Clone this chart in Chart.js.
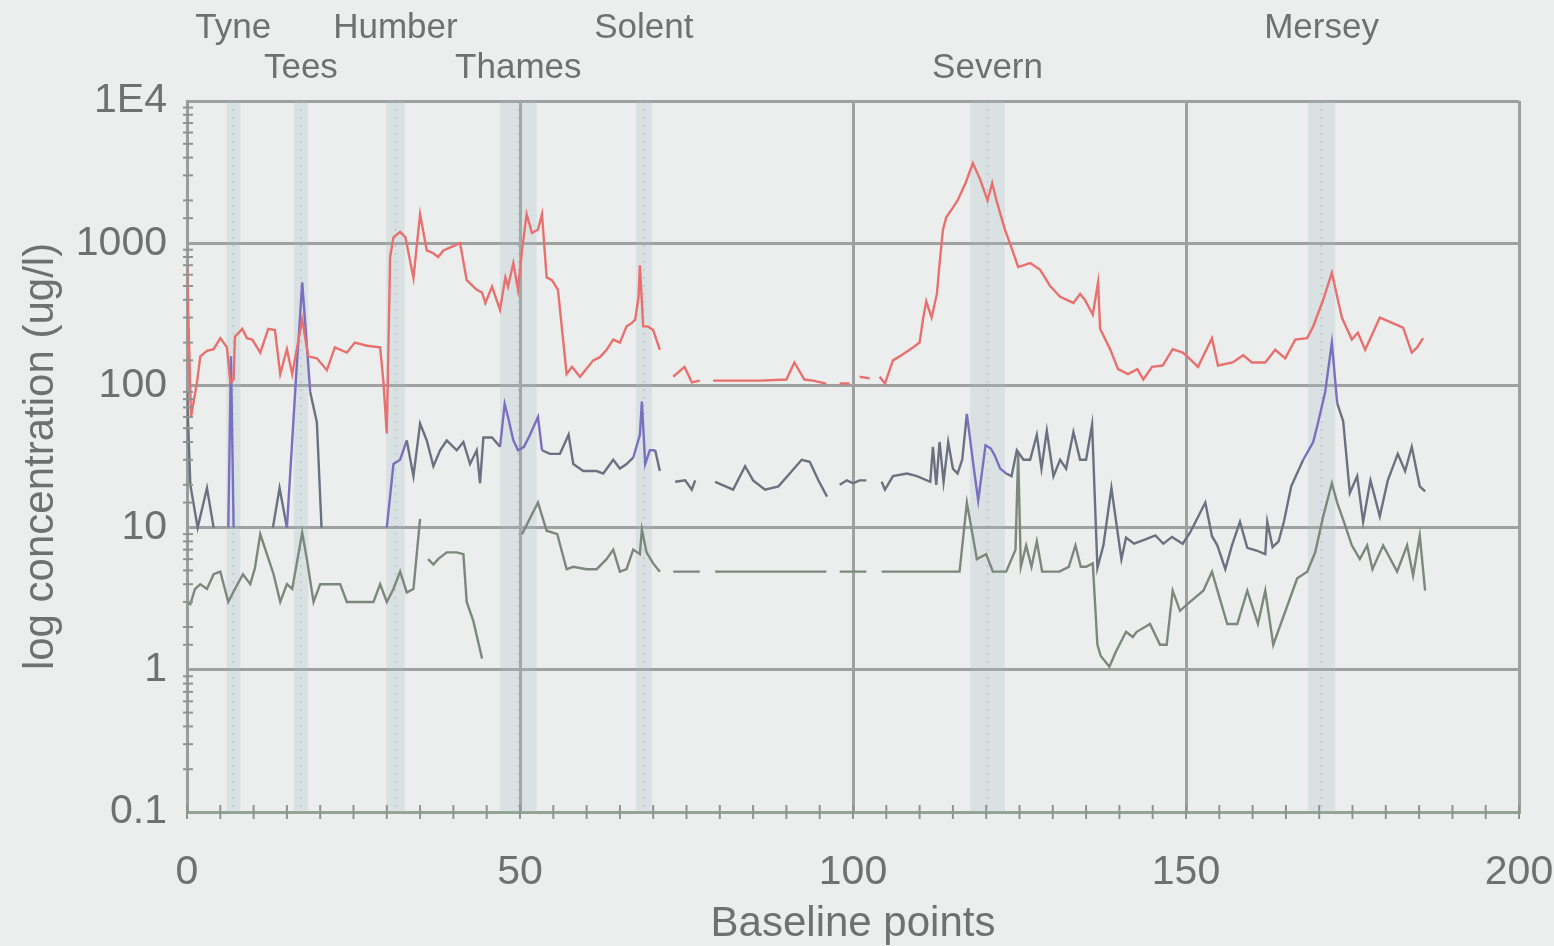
<!DOCTYPE html>
<html>
<head>
<meta charset="utf-8">
<title>Baseline points</title>
<script src="https://cdn.jsdelivr.net/npm/chart.js@4.4.1/dist/chart.umd.min.js"></script>
<style>
  html, body { margin: 0; padding: 0; background: #eceeed; }
  #chartContainer { width: 1554px; height: 946px; }
</style>
</head>
<body>
<div id="chartContainer"><canvas id="baselineChart" width="1554" height="946"></canvas></div>
<script>
// Valores (x = punto de linea base, y = concentracion ug/l)
const redX = [0, 0.6, 1.5, 2, 3, 4, 5, 6, 6.5, 7, 7.2, 8.3, 9, 9.8, 11, 12.2, 13.2, 14, 15, 15.8, 17.3, 18.2, 19.5, 21, 22.2, 24, 25.2, 27, 29, 29.5,
  30, 30.5, 31, 32, 32.8, 34, 35, 36, 37, 37.7, 38.5, 39.2, 41, 42, 43.5, 44.3, 44.8, 45.8, 47, 47.8, 48.2, 49, 49.7, 50.3, 51, 51.8, 52.7, 53.3, 54, 54.8,
  55.7, 57, 57.8, 59, 61, 62, 63, 64, 65, 66, 66.8, 67.3, 67.8, 68, 68.5, 69.2, 70, 71, 72, 73, 74.7, 75.8, 77, 78, 79, 82, 86, 90, 91.2, 92.7,
  94, 96, 97, 98, 99.5, 100.5, 101, 102.5, 103, 104, 104.8, 106, 107, 109, 110, 110.5, 111, 111.8, 112.6, 113, 113.5, 114, 115, 115.7, 116.9, 118, 119.1, 120.2, 120.9, 121.6,
  122.8, 123.9, 124.8, 126.6, 128.1, 129.6, 131.1, 133.1, 134.1, 134.8, 136, 136.8, 137.1, 138.6, 139.8, 141.3, 142.7, 143.6, 144.9, 146.5, 148, 149.5, 150.3, 151.8, 153.9, 154.8, 157, 158.6, 159.9, 161.9,
  163.4, 164.9, 166.4, 168.2, 169.1, 170.6, 171.9, 173.4, 174.9, 175.8, 176.9, 179.1, 180.6, 182.6, 183.9, 184.7, 185.6];
const redY = [700, 60, 105, 160, 175, 180, 215, 185, 105, 110, 220, 250, 215, 210, 170, 250, 245, 120, 180, 120, 290, 160, 155, 128, 185, 170, 200, 190, 185, 105,
  46, 800, 1100, 1200, 1100, 570, 1600, 890, 850, 800, 890, 920, 1000, 550, 470, 450, 380, 495, 340, 575, 495, 725, 470, 890, 1600, 1180, 1250, 1600, 575, 550,
  470, 120, 135, 115, 150, 158, 178, 210, 200, 260, 275, 290, 420, 700, 260, 260, 245, 178, null, 115, 135, 105, 108, null, 108, 108, 108, 110, 145, 110,
  108, 103, null, 103, 103, null, 115, 112, null, 115, 103, 150, 160, 185, 200, 290, 390, 300, 440, 720, 1240, 1520, 1780, 2000, 2650, 3650, 2800, 2000, 2650, 1950,
  1250, 900, 680, 725, 650, 500, 420, 380, 440, 400, 315, 530, 250, 180, 130, 120, 130, 110, 135, 138, 180, 170, 158, 135, 215, 138, 145, 163, 145, 145,
  178, 155, 210, 215, 260, 400, 620, 300, 210, 235, 178, 300, 280, 255, 170, 185, 215];

const midX = [0, 0.5, 1.6, 3, 4, 4.5, 6.2, 6.6, 7, 7.5, 12.9, 13.9, 15, 16.3, 17.3, 18.5, 19.5, 20.2, 21,
  30, 31, 32, 33, 34, 35, 36, 37, 38, 39, 40.5, 41.5, 42.5, 43.5, 44, 44.5, 45.8, 47, 47.7, 48.2, 49, 49.7, 50.6, 51.5, 52.7, 53.3, 54.5, 56, 57.3, 58, 59.5,
  61.5, 62.5, 64, 65, 66, 67, 68, 68.3, 68.8, 69.5, 70.3, 71, 72, 73.3, 74.8, 75.8, 76.3, 77, 79.3, 82, 83.8, 85, 86.8, 88.8, 90.5, 92.3, 93.5, 94.8, 96.1, 97,
  98, 99.1, 100, 101, 102, 103, 104.3, 104.8, 106, 108.1, 109.6, 111.6, 112, 112.5, 113, 113.6, 114.3, 115, 115.7, 116.4, 117.1, 118.1, 118.8, 119.9, 120.7, 121.3, 122.1, 123,
  123.8, 124.6, 125.6, 126.6, 127.6, 128.3, 129.1, 130.1, 131.1, 132, 133.1, 134.1, 135, 135.9, 136.7, 137.6, 138.8, 140.3, 141, 142.2, 144, 145.4, 146.6, 147.9, 149.5, 150.6,
  152.9, 153.9, 154.7, 155.9, 156.9, 158.1, 159.2, 160.6, 161.9, 162.2, 163, 163.9, 164.7, 165.8, 167.6, 169.1, 169.8, 170.9, 171.9, 172.7, 173.6, 174.6, 175.7, 176.6, 177.7,
  179.1, 180.3, 181.8, 182.9, 183.9, 185.1, 185.9];
const midY = [90, 20, 10, 19, 10, null, 10, 160, 10, null, 10, 19, 10, 100, 530, 90, 55, 10, null,
  10, 28, 30, 41, 23, 54, 41, 27, 35, 41, 35, 40, 28, 35, 20.5, 43, 43, 37, 74, 60, 41, 35, 37, 45, 60, 35, 33, 33, 45, 28, 25,
  25, 24, 30, 26, 28, 31, 45, 77, 28, 35, 35, 25, null, 21, 21.5, 18.5, 21.5, null, 21, 18.5, 27, 21.5, 18.5, 19.5, 24, 30, 29, 21.5, 16.5, null,
  20, 21.5, 20.5, 21.5, 21.5, null, 21, 18.5, 23, 24, 23, 21, 37, 20, 40, 21, 40, 26, 24, 30, 63, 27, 15.5, 38, 36, 32, 26, 24,
  23, 35, 30, 30, 45, 26, 48, 23, 30, 26, 47, 30, 30, 53, 5.2, 7.5, 19, 6, 8.5, 7.7, 8.3, 8.8, 7.7, 8.6, 7.7, 9.2,
  15, 8.7, 7.5, 5.1, 7.5, 11, 7.2, 6.9, 6.5, 11, 7.3, 8, 11, 19.5, 30, 40, 54, 90, 200, 75, 56, 17.5, 23, 11, 21.5,
  12, 21.5, 33, 25, 37, 19.5, 18];

const lowX = [0, 0.5, 1.2, 2, 3, 4, 5, 6.2, 7.2, 8.4, 9.5, 10.2, 11, 12, 13, 14, 15, 15.8, 17.3, 18, 19, 20, 23, 24, 28, 29, 30, 31, 32, 33, 34, 35, 35.5,
  36.2, 37, 37.7, 39, 40.5, 41.5, 42, 43, 44.3, 45, 50.3, 52.7, 54, 55.6, 57, 58, 60, 61.5, 63, 64, 65, 66, 67, 68, 68.3, 69, 70, 71, 72,
  73, 77, 77.5, 79.3, 96, 97, 98, 102, 103, 104.3, 116, 117.1, 118.6, 120, 121, 123, 124.4, 124.8, 125.2, 126, 126.8, 127.6, 128.4, 131, 132.4, 133.4, 134.2, 135, 136,
  136.7, 137.2, 138.5, 139.5, 141, 142, 142.6, 144.6, 146.1, 147.1, 148, 149.1, 150.6, 152.6, 153.9, 156.2, 157.7, 159.2, 160.8, 161.9, 163.1, 166.7, 168.2, 169.4, 170.6,
  171.9, 172.7, 173.7, 174.9, 176.1, 177.2, 178, 179.6, 181.7, 183.2, 184.1, 185.1, 185.9];
const lowY = [3, 2.9, 3.7, 4, 3.7, 4.7, 4.9, 3, 3.7, 4.7, 4, 5.2, 9, 6.5, 4.7, 3, 4, 3.7, 9.2, 6, 3, 4, 4, 3, 3, 4, 3, 3.7, 4.9, 3.5, 3.7, 11.5, null,
  6, 5.5, 6, 6.7, 6.7, 6.5, 3, 2.2, 1.2, null, 9, 15, 9.5, 9, 5.1, 5.3, 5.1, 5.1, 6, 7, 4.9, 5.1, 7, 6.5, 9.7, 6.7, 5.6, 4.9, null,
  4.9, 4.9, null, 4.9, 4.9, null, 4.9, 4.9, null, 4.9, 4.9, 15, 6, 6.5, 4.9, 4.9, 7, 33, 5.3, 7.5, 5.3, 8, 4.9, 4.9, 5.3, 7.5, 5.3, 5.3, 5.6,
  1.5, 1.25, 1.05, 1.35, 1.85, 1.7, 1.85, 2.1, 1.5, 1.5, 3.6, 2.6, 3, 3.6, 4.9, 2.1, 2.1, 3.6, 2.1, 3.6, 1.5, 4.4, 4.9, 6.7, 12,
  20.5, 15, 11, 7.5, 6, 7.5, 5.1, 7.5, 4.9, 7.5, 4.6, 8.8, 3.6];

// Estuarios: nombre, inicio y fin de la franja sombreada, fila de la etiqueta
const estuaryNames = ['Tyne', 'Tees', 'Humber', 'Thames', 'Solent', 'Severn', 'Mersey'];
const bandStart = [5.9, 16, 29.9, 47, 67.4, 117.6, 168.3];
const bandEnd = [8, 18.2, 32.7, 52.5, 69.8, 122.8, 172.4];
const labelRow = [0, 1, 0, 1, 0, 1, 0];

const yTickValues = [0.1, 1, 10, 100, 1000, 10000];
const yTickLabels = ['0.1', '1', '10', '100', '1000', '1E4'];
const xTickValues = [0, 50, 100, 150, 200];

const FONT = '"Liberation Sans", Arial, sans-serif';
const TEXT_COLOR = '#6f7170';
const GRID_COLOR = '#9ea19f';

function toPoints(xs, ys) {
    return xs.map((x, i) => ({ x: x, y: ys[i] }));
}

function isMajorLog(v) {
    const l = Math.log10(v);
    return Math.abs(l - Math.round(l)) < 1e-6;
}

function inBand(x) {
    for (let i = 0; i < bandStart.length; i++) {
        if (x >= bandStart[i] - 0.5 && x <= bandEnd[i] + 0.5) return true;
    }
    return false;
}

// Franjas de estuarios, marcas menores y etiquetas
const estuaryPlugin = {
    id: 'estuaryPlugin',
    beforeDatasetsDraw(chart) {
        const ctx = chart.ctx;
        const xs = chart.scales.x;
        const area = chart.chartArea;
        ctx.save();
        for (let i = 0; i < bandStart.length; i++) {
            const x0 = xs.getPixelForValue(bandStart[i]);
            const x1 = xs.getPixelForValue(bandEnd[i]);
            ctx.fillStyle = 'rgba(165, 188, 202, 0.26)';
            ctx.fillRect(x0, area.top, x1 - x0, area.bottom - area.top);
            ctx.strokeStyle = 'rgba(140, 160, 175, 0.4)';
            ctx.setLineDash([2, 6]);
            ctx.lineWidth = 1.5;
            ctx.beginPath();
            ctx.moveTo((x0 + x1) / 2, area.top);
            ctx.lineTo((x0 + x1) / 2, area.bottom);
            ctx.stroke();
        }
        ctx.restore();
    },
    afterDraw(chart) {
        const ctx = chart.ctx;
        const xs = chart.scales.x;
        const ys = chart.scales.y;
        const area = chart.chartArea;
        ctx.save();
        ctx.strokeStyle = '#8f948f';
        ctx.lineWidth = 2;
        // marcas menores eje y
        ys.ticks.forEach(t => {
            if (isMajorLog(t.value)) return;
            const py = ys.getPixelForValue(t.value);
            ctx.beginPath();
            ctx.moveTo(area.left - 4, py);
            ctx.lineTo(area.left + 6, py);
            ctx.stroke();
        });
        // marcas eje x cada 5
        xs.ticks.forEach(t => {
            const px = xs.getPixelForValue(t.value);
            ctx.beginPath();
            ctx.moveTo(px, area.bottom - 7);
            ctx.lineTo(px, area.bottom + 7);
            ctx.stroke();
        });
        // nombres de estuarios
        ctx.fillStyle = TEXT_COLOR;
        ctx.font = '35px ' + FONT;
        ctx.textAlign = 'center';
        ctx.textBaseline = 'middle';
        for (let i = 0; i < estuaryNames.length; i++) {
            const cx = xs.getPixelForValue((bandStart[i] + bandEnd[i]) / 2);
            const cy = labelRow[i] === 0 ? 28 : 68;
            ctx.fillText(estuaryNames[i], cx, cy);
        }
        ctx.restore();
    }
};

function crearGrafico() {
    const canvas = document.getElementById('baselineChart');
    const ctx = canvas.getContext('2d');

    const segmentColor = base => ({
        borderColor: c => inBand((c.p0.parsed.x + c.p1.parsed.x) / 2) ? '#7a6fc0' : base
    });

    window.baselineChart = new Chart(ctx, {
        type: 'line',
        data: {
            datasets: [
                {
                    label: 'red',
                    data: toPoints(redX, redY),
                    borderColor: '#e8706e',
                    borderWidth: 2.4,
                    pointRadius: 0,
                    spanGaps: false,
                    tension: 0
                },
                {
                    label: 'mid',
                    data: toPoints(midX, midY),
                    borderColor: '#6d7080',
                    borderWidth: 2.4,
                    pointRadius: 0,
                    spanGaps: false,
                    tension: 0,
                    segment: segmentColor('#6d7080')
                },
                {
                    label: 'low',
                    data: toPoints(lowX, lowY),
                    borderColor: '#7b887b',
                    borderWidth: 2.4,
                    pointRadius: 0,
                    spanGaps: false,
                    tension: 0
                }
            ]
        },
        options: {
            responsive: false,
            animation: false,
            layout: { padding: { top: 101, right: 35, left: 0, bottom: 0 } },
            plugins: {
                legend: { display: false },
                tooltip: { enabled: false }
            },
            scales: {
                x: {
                    type: 'linear',
                    min: 0,
                    max: 200,
                    afterFit: s => {
                        s.height = 134;
                        s.paddingLeft = 0;
                        s.paddingRight = 0;
                    },
                    ticks: {
                        stepSize: 5,
                        autoSkip: false,
                        maxRotation: 0,
                        padding: 36,
                        color: TEXT_COLOR,
                        font: { family: FONT, size: 41 },
                        callback: v => xTickValues.includes(v) ? String(v) : ''
                    },
                    grid: {
                        drawTicks: false,
                        lineWidth: 3,
                        color: c => (c.tick && c.tick.value % 50 === 0) ? GRID_COLOR : 'rgba(0,0,0,0)'
                    },
                    border: { color: '#93a493', width: 3 },
                    title: {
                        display: true,
                        text: 'Baseline points',
                        color: TEXT_COLOR,
                        font: { family: FONT, size: 42 },
                        padding: { top: 0, bottom: -4 }
                    }
                },
                y: {
                    type: 'logarithmic',
                    min: 0.1,
                    max: 10000,
                    afterFit: s => {
                        s.width = 187;
                        s.paddingTop = 0;
                        s.paddingBottom = 0;
                    },
                    ticks: {
                        autoSkip: false,
                        padding: 20,
                        color: TEXT_COLOR,
                        font: { family: FONT, size: 41 },
                        callback: v => {
                            const i = yTickValues.findIndex(t => Math.abs(t - v) / t < 1e-6);
                            return i >= 0 ? yTickLabels[i] : '';
                        }
                    },
                    grid: {
                        drawTicks: false,
                        lineWidth: 3,
                        color: c => (c.tick && isMajorLog(c.tick.value)) ? GRID_COLOR : 'rgba(0,0,0,0)'
                    },
                    border: { color: '#9a9d9c', width: 3 },
                    title: {
                        display: true,
                        text: 'log concentration (ug/l)',
                        color: TEXT_COLOR,
                        font: { family: FONT, size: 42 },
                        padding: { top: 16, bottom: 0 }
                    }
                }
            }
        },
        plugins: [estuaryPlugin]
    });
}

try {
    crearGrafico();
} catch (error) {
    console.error('Error al crear el grafico:', error);
}
</script>
</body>
</html>
